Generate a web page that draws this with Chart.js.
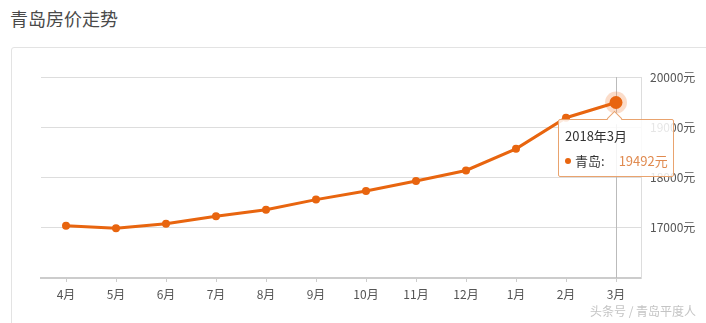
<!DOCTYPE html>
<html>
<head>
<meta charset="utf-8">
<script src="https://cdn.jsdelivr.net/npm/chart.js@4/dist/chart.umd.min.js"></script>
<style>
    body { margin: 0; background: #fff; font-family: "Noto Sans CJK SC", sans-serif; }
    #wrap { position: relative; width: 706px; height: 323px; overflow: hidden; }
    #title { position: absolute; left: 10px; top: 5px; font-size: 18px; color: #4a4a4a; }
    #card { position: absolute; left: 11px; top: 47px; width: 720px; height: 300px; border: 1px solid #e3e3e3; border-radius: 3px; }
    #chart { position: absolute; left: 0; top: 0; }
    #mark { position: absolute; left: 590px; top: 302px; font-size: 12px; color: #c4c4c4; }
    #tip { position: absolute; width: 114px; height: 56px; background: rgba(255, 255, 255, 0.85); border: 1px solid #e9a36e; border-radius: 2px; opacity: 0; }
    #tip .caret { position: absolute; top: -7px; left: 50px; width: 10px; height: 10px; background: #fff; border-left: 1px solid #e9a36e; border-top: 1px solid #e9a36e; transform: rotate(45deg); }
    #tip .t { position: absolute; left: 6px; top: 6px; font-size: 13px; color: #333; }
    #tip .b { position: absolute; left: 6px; top: 31px; font-size: 13px; color: #333; white-space: nowrap; }
    #tip .dot { display: inline-block; width: 6px; height: 6px; border-radius: 3px; background: #e8650f; margin-right: 4px; vertical-align: 2px; }
    #tip .v { color: #e08a4f; margin-left: 14px; }
</style>
</head>
<body>
<div id="wrap">
    <div id="title">青岛房价走势</div>
    <div id="card"></div>
    <canvas id="chart" width="706" height="323"></canvas>
    <div id="mark">头条号 / 青岛平度人</div>
    <div id="tip"><div class="caret"></div><div class="t"></div><div class="b"><span class="dot"></span>青岛:<span class="v"></span></div></div>
</div>
<script>
const months = ['4月', '5月', '6月', '7月', '8月', '9月', '10月', '11月', '12月', '1月', '2月', '3月'];
const years = [2017, 2017, 2017, 2017, 2017, 2017, 2017, 2017, 2017, 2018, 2018, 2018];
const prices = [17040, 16990, 17080, 17230, 17360, 17560, 17730, 17930, 18140, 18570, 19190, 19492];
const cityName = '青岛';
const yMin = 16000;
const yMax = 20000;

const lineColor = '#e8650f';

function externalTooltip(context) {
    const tooltip = context.tooltip;
    const el = document.getElementById('tip');
    if (tooltip.opacity === 0 || !tooltip.dataPoints || !tooltip.dataPoints.length) {
        el.style.opacity = 0;
        return;
    }
    const i = tooltip.dataPoints[0].dataIndex;
    el.querySelector('.t').textContent = years[i] + '年' + months[i];
    el.querySelector('.v').textContent = prices[i] + '元';
    el.style.left = (tooltip.caretX - 58) + 'px';
    el.style.top = (tooltip.caretY + 16) + 'px';
    el.style.opacity = 1;
}

// vertical pointer line + halo behind the active point
const pointerPlugin = {
    id: 'pointer',
    beforeDatasetsDraw(chart) {
        const active = chart.getActiveElements();
        if (!active.length) return;
        const pt = active[0].element;
        const area = chart.chartArea;
        const ctx = chart.ctx;
        ctx.save();
        ctx.strokeStyle = '#bbb';
        ctx.lineWidth = 1;
        ctx.beginPath();
        ctx.moveTo(Math.round(pt.x) + 0.5, area.top);
        ctx.lineTo(Math.round(pt.x) + 0.5, area.bottom);
        ctx.stroke();
        ctx.fillStyle = 'rgba(240, 130, 60, 0.28)';
        ctx.beginPath();
        ctx.arc(pt.x, pt.y, 11, 0, Math.PI * 2);
        ctx.fill();
        ctx.restore();
    }
};

const chart = new Chart(document.getElementById('chart'), {
    type: 'line',
    data: {
        labels: months,
        datasets: [{
            label: cityName,
            data: prices,
            borderColor: lineColor,
            backgroundColor: lineColor,
            borderWidth: 3,
            pointRadius: 4,
            pointBackgroundColor: lineColor,
            pointBorderWidth: 0,
            pointHoverRadius: 6.5,
            pointHoverBackgroundColor: lineColor,
            pointHoverBorderWidth: 0,
            tension: 0
        }]
    },
    options: {
        responsive: false,
        animation: false,
        events: [],
        layout: { padding: { left: 41, top: 77, right: 0, bottom: 0 } },
        plugins: {
            legend: { display: false },
            tooltip: { enabled: false, external: externalTooltip }
        },
        scales: {
            x: {
                offset: true,
                grid: { display: true, drawOnChartArea: false, drawTicks: true, tickLength: 4, color: '#ccc', offset: false },
                border: { display: true, color: '#ccc', width: 2 },
                ticks: { color: '#555', padding: 5, font: { size: 12, family: '"Noto Sans CJK SC"' }, maxRotation: 0, autoSkip: false },
                afterFit(scale) { scale.height = 45; }
            },
            y: {
                position: 'right',
                min: yMin,
                max: yMax,
                grid: { color: '#ddd', drawTicks: false },
                border: { display: true, color: '#ddd' },
                ticks: {
                    stepSize: 1000,
                    padding: 9,
                    color: '#555',
                    font: { size: 12, family: '"Noto Sans CJK SC"' },
                    callback: v => v === yMin ? '' : v + '元'
                },
                afterFit(scale) { scale.width = 65; }
            }
        }
    },
    plugins: [pointerPlugin]
});

const last = prices.length - 1;
chart.setActiveElements([{ datasetIndex: 0, index: last }]);
chart.tooltip.setActiveElements([{ datasetIndex: 0, index: last }], { x: 0, y: 0 });
chart.update();
</script>
</body>
</html>
